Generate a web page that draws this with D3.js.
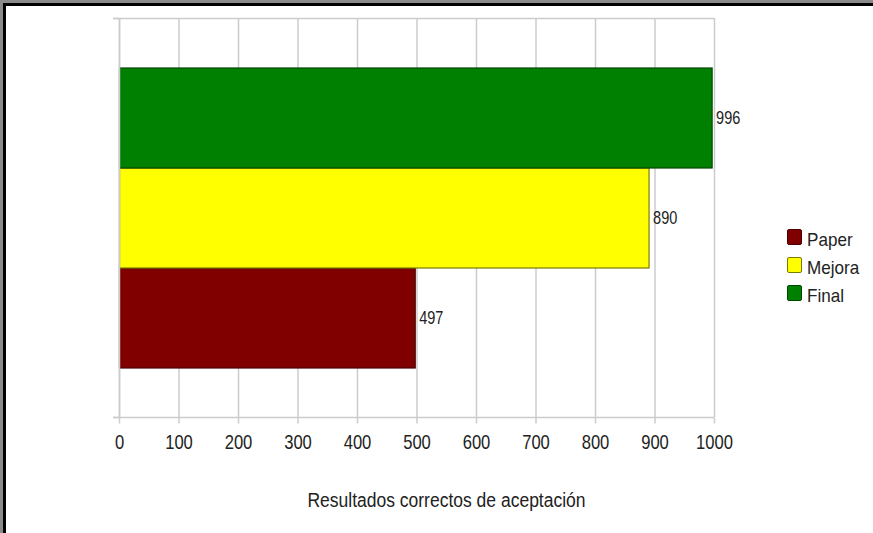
<!DOCTYPE html>
<html><head><meta charset="utf-8">
<script src="https://cdn.jsdelivr.net/npm/d3@7"></script>
<style>
html,body{margin:0;padding:0;background:#fff;}
svg{display:block;font-family:"Liberation Sans",Arial,sans-serif;}
</style></head>
<body>
<svg id="chart" width="873" height="533"></svg>
<script>
const categories = ["Resultados"];
const seriesNames = ["Paper", "Mejora", "Final"];
const seriesValues = [497, 890, 996];
const seriesColors = ["#800000", "#ffff00", "#008000"];
const seriesStrokes = ["#4a0000", "#7a7a00", "#004800"];
const xTicks = [0,100,200,300,400,500,600,700,800,900,1000];
const axisTitle = "Resultados correctos de aceptación";

(function(){
const svg = d3.select("#chart");
svg.append("rect").attr("x",0).attr("y",0).attr("width",873).attr("height",3).attr("fill","#8a8a8a");
svg.append("rect").attr("x",0).attr("y",0).attr("width",3).attr("height",533).attr("fill","#8a8a8a");
svg.append("rect").attr("x",3).attr("y",3).attr("width",870).attr("height",3).attr("fill","#000");
svg.append("rect").attr("x",3).attr("y",3).attr("width",3).attr("height",530).attr("fill","#000");

const pL = 119, pR = 714, pT = 18, pB = 417;
const x = d3.scaleLinear().domain([0,1000]).range([pL,pR]);
const y0 = d3.scaleBand().domain(categories).range([pT,pB]).paddingInner(0).paddingOuter(0.165);
const order = ["Final","Mejora","Paper"];
const y1 = d3.scaleBand().domain(order).range([0,y0.bandwidth()]);

const gridColor = "#cccccc";
svg.append("g").selectAll("line").data(xTicks).join("line")
  .attr("x1",d=>x(d)+0.5).attr("x2",d=>x(d)+0.5).attr("y1",pT).attr("y2",pB)
  .attr("stroke",gridColor).attr("stroke-width",1.5);
svg.append("line").attr("x1",pL-6).attr("x2",pR).attr("y1",pT+0.5).attr("y2",pT+0.5)
  .attr("stroke",gridColor).attr("stroke-width",1.5);

const data = seriesNames.map((n,i)=>({name:n,value:seriesValues[i],color:seriesColors[i],stroke:seriesStrokes[i]}));
const g = svg.append("g").attr("transform",`translate(0,${y0(categories[0])})`);
g.selectAll("rect").data(data).join("rect")
  .attr("x",x(0)+0.5).attr("y",d=>y1(d.name)+0.5)
  .attr("width",d=>x(d.value)-x(0)).attr("height",y1.bandwidth())
  .attr("fill",d=>d.color).attr("stroke",d=>d.stroke).attr("stroke-width",1.2);
g.selectAll("text").data(data).join("text")
  .attr("transform",d=>`translate(${x(d.value)+4.5},${y1(d.name)+y1.bandwidth()/2+6}) scale(0.83,1)`)
  .attr("font-size",17.5).attr("fill","#222")
  .text(d=>d.value);

svg.append("line").attr("x1",pL+0.5).attr("x2",pL+0.5).attr("y1",pT).attr("y2",pB)
  .attr("stroke",gridColor).attr("stroke-width",1.5);
svg.append("g").selectAll("line").data([pT,pB]).join("line")
  .attr("x1",pL-6).attr("x2",pL).attr("y1",d=>d+0.5).attr("y2",d=>d+0.5)
  .attr("stroke",gridColor).attr("stroke-width",1.5);

const xAxis = d3.axisBottom(x).tickValues(xTicks).tickSize(6).tickPadding(8).tickFormat(d3.format("d"));
const ax = svg.append("g").attr("transform",`translate(0,${pB+0.5})`).call(xAxis);
ax.select(".domain").remove();
ax.append("line").attr("x1",pL-6).attr("x2",pR).attr("stroke",gridColor).attr("stroke-width",1.5);
ax.selectAll(".tick line").attr("stroke",gridColor).attr("stroke-width",1.5);
ax.selectAll(".tick text").attr("font-size",20).attr("fill","#222")
  .attr("font-family","'Liberation Sans',Arial,sans-serif")
  .attr("y",31.5).attr("dy",null).attr("transform","scale(0.83,1)");

svg.append("text").attr("transform","translate(446.5,507) scale(0.875,1)").attr("text-anchor","middle")
  .attr("font-size",20).attr("fill","#222").text(axisTitle);

const leg = svg.append("g").attr("transform","translate(787,229)");
const li = leg.selectAll("g").data(data).join("g").attr("transform",(d,i)=>`translate(0,${i*28})`);
li.append("rect").attr("x",0.5).attr("y",0.5).attr("width",14).attr("height",15)
  .attr("rx",1.5).attr("fill",d=>d.color).attr("stroke",d=>d.stroke);
li.append("text").attr("transform","translate(20,17) scale(0.95,1)")
  .attr("font-size",18).attr("fill","#222").text(d=>d.name);
})();
</script>
</body></html>
